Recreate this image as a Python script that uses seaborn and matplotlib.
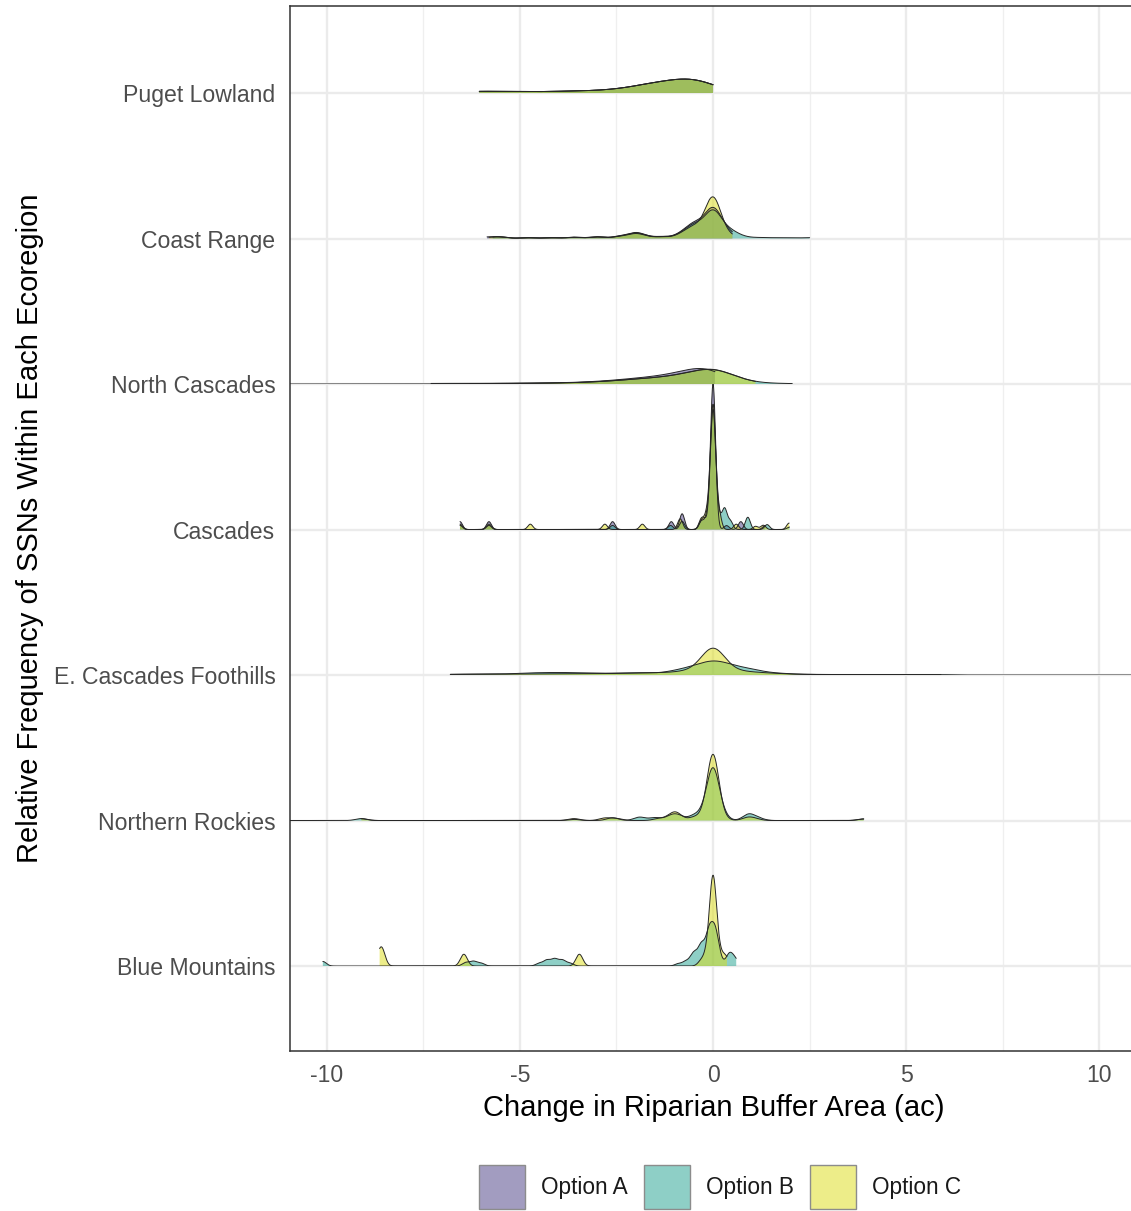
import numpy as np
import pandas as pd
import matplotlib
matplotlib.use("Agg")
import matplotlib.pyplot as plt
from matplotlib.patches import Patch
from matplotlib.colors import to_rgba
import seaborn as sns

# ---------------------------------------------------------------------------
# Data: change in riparian buffer area (ac) per SSN, with relative frequency
# ---------------------------------------------------------------------------
regions = ["Puget Lowland", "Coast Range", "North Cascades", "Cascades",
           "E. Cascades Foothills", "Northern Rockies", "Blue Mountains"]
options = ["Option A", "Option B", "Option C"]
option_colors = ["#473B83", "#1FA18F", "#DDDD15"]
region_bw = [0.45, 0.2, 0.45, 0.065, 0.3, 0.15, 0.09]

# Puget Lowland (identical across options)
puget_change = [-6.05, -5.2, -4.4, -3.6, -2.8, -2.1, -1.5, -0.9, -0.4, 0.0]
puget_freq = [0.3, 0.2, 0.2, 0.3, 0.4, 0.7, 1.2, 1.5, 1.3, 0.6]

# Coast Range
coast_a_change = [-5.85, -5.5, -4.8, -4.2, -3.6, -3.0, -2.4, -2.0, -1.7, -1.3,
                  -0.8, -0.5, -0.25, 0.0, 0.25, 0.5]
coast_a_freq = [0.3, 0.3, 0.2, 0.2, 0.3, 0.4, 0.5, 1.2, 0.3, 0.4,
                1.0, 2.5, 1.5, 5.5, 1.5, 0.6]
coast_b_change = [-5.7, -5.5, -4.8, -4.2, -3.6, -3.0, -2.4, -2.0, -1.7, -1.3,
                  -0.8, -0.5, -0.25, 0.0, 0.25, 0.5, 0.8, 1.2, 1.6, 2.0, 2.5]
coast_b_freq = [0.2, 0.3, 0.2, 0.2, 0.3, 0.4, 0.5, 1.2, 0.3, 0.4,
                1.0, 2.5, 1.5, 5.5, 1.5, 1.2, 0.3, 0.2, 0.15, 0.15, 0.2]
coast_c_change = [-5.8, -5.5, -4.8, -4.2, -3.6, -3.0, -2.4, -2.0, -1.7, -1.3,
                  -0.8, -0.5, -0.25, 0.0, 0.3, 0.5]
coast_c_freq = [0.2, 0.4, 0.2, 0.2, 0.3, 0.4, 0.5, 1.2, 0.3, 0.4,
                1.0, 2.5, 1.0, 10.5, 0.8, 0.3]

# North Cascades
ncasc_a_change = [-7.3, -6.5, -5.5, -4.7, -3.9, -3.1, -2.4, -1.8, -1.2, -0.6, -0.1, 0.05]
ncasc_a_freq = [0.15, 0.15, 0.15, 0.2, 0.3, 0.5, 0.8, 1.1, 1.6, 2.4, 2.6, 0.6]
ncasc_b_change = [-14.5, -6.3, -5.5, -4.7, -3.9, -3.1, -2.4, -1.8, -1.2, -0.6, -0.05,
                  0.4, 0.9, 1.1, 1.5, 2.05]
ncasc_b_freq = [0.02, 0.15, 0.15, 0.2, 0.3, 0.5, 0.8, 1.1, 1.5, 2.2, 3.4,
                1.6, 0.3, 0.1, 0.1, 0.1]
ncasc_c_change = [-6.3, -5.5, -4.7, -3.9, -3.1, -2.4, -1.8, -1.2, -0.6, -0.05, 0.4, 0.9, 1.1]
ncasc_c_freq = [0.15, 0.15, 0.2, 0.3, 0.5, 0.8, 1.1, 1.5, 2.2, 3.4, 1.6, 0.3, 0.1]

# Cascades
casc_a_change = [-6.55, -5.8, -2.6, -1.08, -0.8, -0.3, -0.2, -0.05, 0.0, 0.05, 0.35, 0.72, 1.35]
casc_a_freq = [1, 1, 1, 1, 2, 1, 1, 1, 17, 1, 0.5, 1, 0.5]
casc_b_change = [-6.55, -5.8, -2.6, -1.1, -0.8, -0.3, -0.15, -0.05, 0.0, 0.05, 0.15,
                 0.3, 0.45, 0.9, 1.4, 1.98]
casc_b_freq = [0.5, 0.5, 0.5, 0.5, 1, 1, 1.5, 1, 13, 1, 1.5, 2.5, 1, 1.5, 0.6, 0.3]
casc_c_change = [-6.55, -5.8, -4.73, -2.8, -1.83, -0.85, -0.3, -0.15, -0.05, 0.0, 0.05,
                 0.15, 0.6, 1.1, 1.3, 1.97]
casc_c_freq = [0.5, 0.5, 0.5, 0.5, 0.5, 1.0, 1, 1.5, 1, 10, 1, 1.5, 0.5, 0.3, 0.4, 0.6]

# E. Cascades Foothills
ecf_b_change = [-6.8, -6.3, -5.8, -5.3, -4.8, -4.3, -3.8, -3.3, -2.8, -2.3, -1.8, -1.2,
                -0.8, -0.4, 0.0, 0.4, 0.8, 1.0, 1.2, 1.6, 2.0, 2.5, 3.0, 3.5, 4.0, 4.5,
                5.0, 5.5, 5.9, 14.0]
ecf_b_freq = [0.1, 0.1, 0.13, 0.13, 0.25, 0.3, 0.3, 0.25, 0.2, 0.25, 0.3, 0.3,
              0.6, 1.0, 1.6, 1.1, 0.6, 0.2, 0.3, 0.2, 0.12, 0.08, 0.06, 0.05, 0.05, 0.05,
              0.05, 0.05, 0.05, 0.02]
ecf_c_change = [-6.8, -6.3, -5.8, -5.3, -4.8, -4.3, -3.8, -3.3, -2.8, -2.3, -1.8, -1.3,
                -0.8, -0.4, 0.0, 0.4, 0.8, 1.2, 1.6, 2.0, 2.5, 3.0, 3.5, 4.0, 4.5, 5.0,
                5.5, 5.9]
ecf_c_freq = [0.1, 0.1, 0.13, 0.13, 0.15, 0.15, 0.15, 0.2, 0.2, 0.25, 0.3, 0.35,
              0.5, 0.6, 5.3, 0.6, 0.45, 0.3, 0.2, 0.12, 0.08, 0.06, 0.05, 0.05, 0.05, 0.05,
              0.05, 0.05]

# Northern Rockies
nrock_b_change = [-13.0, -9.1, -3.6, -2.6, -1.9, -1.5, -1.1, -0.9, -0.5, -0.25, -0.12,
                  0.0, 0.12, 0.25, 0.9, 1.0, 1.2, 3.9]
nrock_b_freq = [0.05, 0.35, 0.2, 0.5, 0.6, 0.5, 0.7, 0.8, 0.8, 1.0, 1.0,
                7.5, 1.0, 0.8, 0.8, 0.4, 0.3, 0.3]
nrock_c_change = [-9.1, -3.6, -2.8, -2.5, -1.4, -1.1, -0.95, -0.5, -0.25, 0.0, 0.25,
                  0.9, 1.1, 3.9]
nrock_c_freq = [0.35, 0.4, 0.5, 0.4, 0.4, 0.6, 1.4, 0.6, 0.8, 13.5, 0.5, 0.6, 0.3, 0.3]

# Blue Mountains
blue_b_change = [-10.1, -6.4, -6.2, -6.0, -4.5, -4.3, -4.1, -3.9, -3.7, -0.9, -0.7,
                 -0.5, -0.3, -0.1, 0.05, 0.15, 0.42, 0.55, 0.6]
blue_b_freq = [0.2, 0.15, 0.2, 0.12, 0.12, 0.25, 0.3, 0.25, 0.12, 0.1, 0.2,
               0.55, 0.9, 1.4, 1.3, 0.3, 0.5, 0.2, 0.1]
blue_c_change = [-8.63, -8.57, -6.45, -3.46, -0.3, -0.15, 0.0, 0.15, 0.3, 0.36]
blue_c_freq = [0.4, 0.8, 0.7, 0.7, 0.3, 0.6, 5.1, 0.6, 0.4, 0.2]

series = {
    ("Puget Lowland", "Option A"): (puget_change, puget_freq),
    ("Puget Lowland", "Option B"): (puget_change, puget_freq),
    ("Puget Lowland", "Option C"): (puget_change, puget_freq),
    ("Coast Range", "Option A"): (coast_a_change, coast_a_freq),
    ("Coast Range", "Option B"): (coast_b_change, coast_b_freq),
    ("Coast Range", "Option C"): (coast_c_change, coast_c_freq),
    ("North Cascades", "Option A"): (ncasc_a_change, ncasc_a_freq),
    ("North Cascades", "Option B"): (ncasc_b_change, ncasc_b_freq),
    ("North Cascades", "Option C"): (ncasc_c_change, ncasc_c_freq),
    ("Cascades", "Option A"): (casc_a_change, casc_a_freq),
    ("Cascades", "Option B"): (casc_b_change, casc_b_freq),
    ("Cascades", "Option C"): (casc_c_change, casc_c_freq),
    ("E. Cascades Foothills", "Option B"): (ecf_b_change, ecf_b_freq),
    ("E. Cascades Foothills", "Option C"): (ecf_c_change, ecf_c_freq),
    ("Northern Rockies", "Option B"): (nrock_b_change, nrock_b_freq),
    ("Northern Rockies", "Option C"): (nrock_c_change, nrock_c_freq),
    ("Blue Mountains", "Option B"): (blue_b_change, blue_b_freq),
    ("Blue Mountains", "Option C"): (blue_c_change, blue_c_freq),
}

df = pd.concat(
    [pd.DataFrame({"region": r, "option": o, "change": v, "freq": w})
     for (r, o), (v, w) in series.items()],
    ignore_index=True,
)

# ---------------------------------------------------------------------------
# Figure
# ---------------------------------------------------------------------------
sns.set_theme(style="white")
plt.rcParams["font.family"] = ["Liberation Sans", "DejaVu Sans"]

W_PX, H_PX = 1131, 1211
fig = plt.figure(figsize=(W_PX / 100, H_PX / 100), dpi=100)
fig.patch.set_facecolor("white")

left, right, top, bottom = 290, 1138, 6, 1051
ax = fig.add_axes([left / W_PX, 1 - bottom / H_PX, (right - left) / W_PX, (bottom - top) / H_PX])

xlim = (-10.95, 11.0)
ylim = (-0.584, 6.598)
ax.set_xlim(*xlim)
ax.set_ylim(*ylim)

n = len(regions)
ypos = {r: n - 1 - i for i, r in enumerate(regions)}

ax.set_xticks([-10, -5, 0, 5, 10])
ax.set_xticklabels(["-10", "-5", "0", "5", "10"])
ax.set_xticks([-7.5, -2.5, 2.5, 7.5], minor=True)
ax.set_yticks([ypos[r] for r in regions])
ax.set_yticklabels(regions)

ax.grid(which="major", color="#EBEBEB", linewidth=1.7)
ax.grid(which="minor", axis="x", color="#EFEFEF", linewidth=0.9)
ax.set_axisbelow(True)
for side in ["left", "bottom", "top", "right"]:
    ax.spines[side].set_color("#333333")
    ax.spines[side].set_linewidth(1.1)
ax.tick_params(axis="both", which="major", length=5, width=1.1, color="#333333",
               labelcolor="#4D4D4D", labelsize=16.6)
ax.tick_params(axis="x", which="major", pad=4.5)
ax.tick_params(axis="y", which="major", pad=5.5)
ax.tick_params(which="minor", length=0)

ax.set_xlabel("Change in Riparian Buffer Area (ac)", fontsize=21, color="black")
ax.xaxis.set_label_coords(0.5, -0.041)
ax.set_ylabel("Relative Frequency of SSNs Within Each Ecoregion", fontsize=21, color="black")
ax.yaxis.set_label_coords(-0.29, 0.5)

# One transparent axes per ridge, stacked from the top ridge down so that
# lower ridges are drawn over the ones above them.
to_fig = fig.transFigure.inverted()
axpos = ax.get_position()
ridge_axes = []
for ri, region in enumerate(regions):
    y0 = to_fig.transform(ax.transData.transform((0, ypos[region])))[1]
    y1 = to_fig.transform(ax.transData.transform((0, ypos[region] + 1)))[1]
    rax = fig.add_axes([axpos.x0, y0, axpos.width, y1 - y0])
    rax.set_axis_off()
    rax.patch.set_alpha(0)
    for option, color in zip(options, option_colors):
        sub = df[(df.region == region) & (df.option == option)]
        if sub.empty:
            continue
        std = np.sqrt(np.cov(sub["change"], aweights=sub["freq"]))
        factor = region_bw[ri] / std
        kde_kws = dict(data=sub, x="change", weights="freq", bw_method=factor,
                       cut=0, gridsize=3000, ax=rax)
        sns.kdeplot(**kde_kws, fill=True, color=color, alpha=0.5,
                    linewidth=0, edgecolor="none")
        sns.kdeplot(**kde_kws, fill=False, color="#262626", linewidth=0.7)
    ridge_axes.append(rax)

# Common height scale: the tallest density just reaches the next ridge
peak = max(np.max(line.get_ydata()) for rax in ridge_axes for line in rax.lines)
for rax in ridge_axes:
    rax.set_xlim(*xlim)
    rax.set_ylim(0, peak)

handles = [Patch(facecolor=to_rgba(c, 0.5), edgecolor="#8C8C8C", linewidth=1.0)
           for c in option_colors]
fig.legend(handles, options, loc="center", bbox_to_anchor=(720 / W_PX, 1 - 1187 / H_PX),
           ncol=3, frameon=False, fontsize=16.3, handlelength=2.05, handleheight=2.6,
           handletextpad=0.7, columnspacing=0.7, borderaxespad=0, labelcolor="#1A1A1A")

fig.savefig("out.png", dpi=100, facecolor="white")
